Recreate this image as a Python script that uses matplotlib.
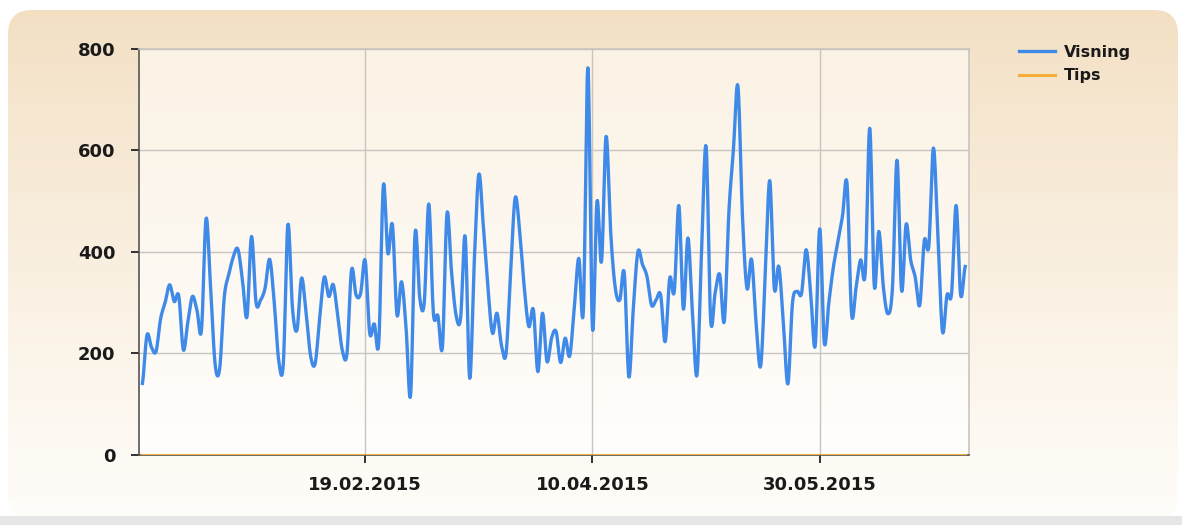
import numpy as np
import pandas as pd
import matplotlib
matplotlib.use("Agg")
import matplotlib.pyplot as plt
import matplotlib.dates as mdates
from matplotlib.patches import FancyBboxPatch

# daglige tall, 01.01.2015 - 01.07.2015
visning = [141, 236, 212, 204, 268, 300, 335, 302, 313, 207,
           262, 312, 285, 246, 465, 330, 178, 170, 310, 355,
           390, 405, 345, 272, 430, 300, 305, 329, 385, 300,
           185, 180, 453, 290, 246, 348, 280, 195, 180, 270,
           350, 312, 335, 270, 205, 200, 364, 315, 318, 383,
           240, 258, 222, 530, 397, 453, 276, 341, 250, 118,
           438, 310, 300, 494, 280, 274, 213, 475, 360, 275,
           270, 430, 151, 380, 552, 450, 330, 240, 279, 215,
           200, 360, 506, 440, 330, 253, 286, 164, 279, 184,
           230, 243, 182, 230, 195, 290, 387, 284, 762, 250,
           499, 381, 627, 440, 330, 305, 358, 154, 290, 400,
           375, 351, 295, 305, 315, 223, 348, 322, 491, 287,
           427, 280, 158, 400, 607, 267, 320, 355, 263, 476,
           600, 726, 470, 328, 385, 260, 175, 350, 540, 328,
           371, 260, 140, 299, 322, 318, 404, 320, 215, 445,
           221, 300, 370, 420, 470, 534, 278, 330, 384, 358,
           643, 333, 440, 330, 278, 330, 580, 324, 454, 384,
           350, 295, 422, 412, 604, 430, 243, 315, 318, 491,
           315, 371]
tips = [0] * len(visning)
start_date = "2015-01-01"
tick_dates = ["2015-02-19", "2015-04-10", "2015-05-30"]
y_ticks = [0, 200, 400, 600, 800]

blue = "#3f8ae8"
orange = "#f7ad3c"


def catmull(x, y, n=12):
    # glatt kurve gjennom punktene
    x = np.asarray(x, float)
    y = np.asarray(y, float)
    xp = np.concatenate([[2 * x[0] - x[1]], x, [2 * x[-1] - x[-2]]])
    yp = np.concatenate([[y[0]], y, [y[-1]]])
    xs, ys = [], []
    t = np.linspace(0, 1, n, endpoint=False)
    for i in range(1, len(xp) - 2):
        p0, p1, p2, p3 = yp[i - 1], yp[i], yp[i + 1], yp[i + 2]
        yy = 0.5 * ((2 * p1) + (-p0 + p2) * t + (2 * p0 - 5 * p1 + 4 * p2 - p3) * t ** 2
                    + (-p0 + 3 * p1 - 3 * p2 + p3) * t ** 3)
        xx = xp[i] + (xp[i + 1] - xp[i]) * t
        xs.append(xx)
        ys.append(yy)
    xs.append([x[-1]])
    ys.append([y[-1]])
    return np.concatenate(xs), np.concatenate(ys)


dates = pd.date_range(start_date, periods=len(visning), freq="D")
xnum = mdates.date2num(dates)

W, H = 1182, 525
fig = plt.figure(figsize=(W / 100, H / 100), dpi=100)
fig.patch.set_facecolor("white")

# bakgrunnspanel med gradient
bg = fig.add_axes([0, 0, 1, 1], zorder=-5)
bg.set_xlim(0, W)
bg.set_ylim(H, 0)
bg.axis("off")
bg.add_patch(plt.Rectangle((0, 516), W, 12, color="#e6e6e6", lw=0))
grad = np.linspace(0, 1, 256).reshape(-1, 1)
top_c = np.array([0.953, 0.878, 0.765])
bot_c = np.array([1.0, 0.992, 0.98])
img = top_c + (bot_c - top_c) * grad[..., None] ** 0.9
im = bg.imshow(img, extent=[8, W + 30, 519, 10], aspect="auto", zorder=0)
panel = FancyBboxPatch((8, 10), W - 12, 509, boxstyle="round,pad=0,rounding_size=24",
                       transform=bg.transData, facecolor="none", edgecolor="none")
bg.add_patch(panel)
im.set_clip_path(panel)

ax = fig.add_axes([139 / W, 1 - 455 / H, (969.3 - 139) / W, (455 - 48.5) / H])
ax.set_facecolor("none")
agrad = np.array([0.984, 0.949, 0.894]) + (np.array([1.0, 0.996, 0.99]) - np.array([0.984, 0.949, 0.894])) * grad[..., None]
ax.imshow(agrad, extent=[0, 1, 0, 1], transform=ax.transAxes, aspect="auto", zorder=0)

xlo = xnum[0] - 0.75
xhi = xnum[-1] + 0.9
ax.set_xlim(xlo, xhi)
ax.set_ylim(0, 800)

sx, sy = catmull(xnum, visning)
ax.plot(sx, sy, color=blue, lw=2.4, solid_joinstyle="round", zorder=4, label="Visning")
ax.plot(xnum, tips, color=orange, lw=2.2, zorder=3, label="Tips")

ax.set_yticks(y_ticks)
tnum = mdates.date2num(pd.to_datetime(tick_dates))
ax.set_xticks(tnum)
ax.set_xticklabels([pd.Timestamp(d).strftime("%d.%m.%Y") for d in tick_dates])
ax.grid(True, color="#c9c4bd", lw=1.0, zorder=1)
ax.set_axisbelow(True)

for s in ["top", "right"]:
    ax.spines[s].set_color("#c8c4be")
    ax.spines[s].set_linewidth(1.2)
for s in ["left", "bottom"]:
    ax.spines[s].set_color("#555555")
    ax.spines[s].set_linewidth(1.2)
ax.tick_params(axis="both", direction="out", length=6, width=1.3, color="#222222",
               labelsize=13, labelcolor="#1a1a1a")
ax.tick_params(axis="y", pad=11)
ax.tick_params(axis="x", pad=9)
for lab in ax.get_xticklabels() + ax.get_yticklabels():
    lab.set_fontweight("bold")
    lab.set_family("DejaVu Sans")

leg = ax.legend(loc="upper left", bbox_to_anchor=(1.043, 1.045), frameon=False,
                fontsize=11.5, handlelength=2.2, handletextpad=0.6, labelspacing=0.55)
for t in leg.get_texts():
    t.set_fontweight("bold")
    t.set_color("#1a1a1a")

fig.savefig("out.png", dpi=100)
